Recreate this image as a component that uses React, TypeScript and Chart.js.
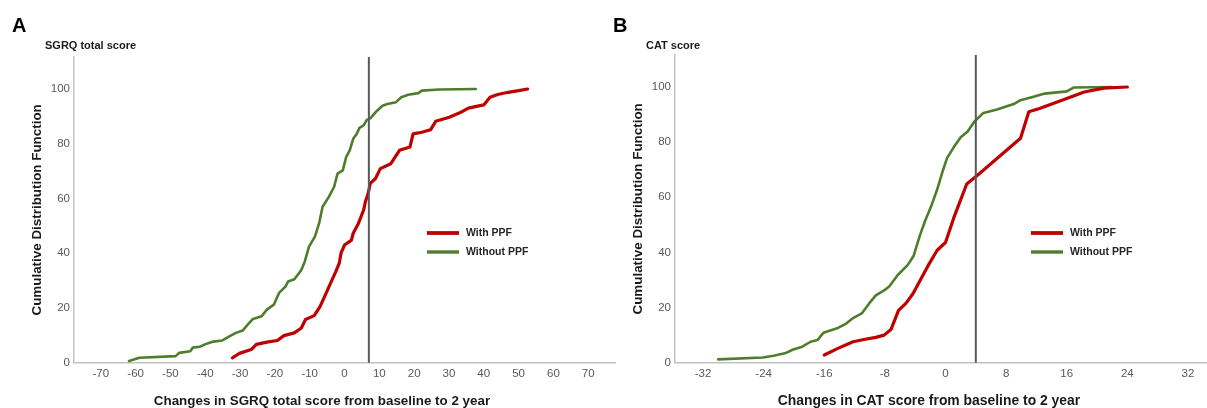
import React, { useEffect, useRef } from "react";
import { Chart, registerables } from "chart.js";

Chart.register(...registerables);

// ---------- data ----------
const seriesLabels = ["With PPF", "Without PPF"];
const yTicks = [0, 20, 40, 60, 80, 100];

const sgrqTicks = [-70, -60, -50, -40, -30, -20, -10, 0, 10, 20, 30, 40, 50, 60, 70];
const sgrqCutoff = 7;
const sgrqWithPpfX = [-32.2, -30.2, -26.8, -25.3, -22.3, -19.3, -17.4, -14.4, -12.4, -11.2, -8.7, -7.0, -5.5, -4.0, -2.5, -1.5, -1.0, 0.0, 2.0, 2.5, 4.0, 5.5, 6.0, 6.8, 7.4, 8.9, 10.3, 13.3, 15.8, 18.8, 19.7, 22.2, 24.7, 26.2, 30.1, 33.1, 35.6, 40.0, 41.8, 44.0, 47.0, 50.0, 52.6];
const sgrqWithPpfY = [1.8, 3.4, 4.8, 6.7, 7.5, 8.1, 9.9, 10.9, 12.7, 15.8, 17.2, 20.6, 24.8, 29.1, 33.3, 36.4, 40.0, 43.0, 44.8, 47.3, 50.9, 55.8, 58.8, 61.8, 65.5, 67.3, 70.9, 72.7, 77.6, 78.8, 83.6, 84.2, 85.1, 88.2, 89.7, 91.3, 93.0, 94.2, 97.0, 98.0, 98.8, 99.4, 100];
const sgrqWithoutPpfX = [-61.9, -58.9, -48.5, -47.5, -44.3, -43.6, -41.6, -40.1, -38.1, -35.2, -33.2, -31.2, -29.2, -27.8, -26.3, -23.8, -22.3, -20.3, -18.8, -16.9, -16.2, -14.4, -12.4, -11.4, -10.2, -8.5, -7.3, -6.3, -4.5, -3.0, -2.0, -0.5, 0.5, 1.5, 2.5, 3.5, 4.3, 5.5, 6.4, 7.4, 8.9, 10.9, 12.3, 14.8, 16.3, 18.3, 21.2, 22.2, 27.2, 37.7];
const sgrqWithoutPpfY = [0.6, 1.8, 2.4, 3.6, 4.2, 5.5, 5.8, 6.7, 7.6, 8.1, 9.5, 10.9, 11.8, 13.9, 16.0, 17.0, 19.4, 21.2, 25.5, 27.9, 29.7, 30.5, 33.9, 37.0, 42.4, 46.1, 50.9, 57.0, 60.6, 64.2, 69.1, 70.3, 75.2, 77.6, 81.8, 83.6, 85.8, 86.7, 88.7, 89.3, 91.5, 93.9, 94.5, 95.2, 97.0, 97.9, 98.5, 99.4, 99.8, 100];

const catTicks = [-32, -24, -16, -8, 0, 8, 16, 24, 32];
const catCutoff = 4;
const catWithPpfX = [-16, -14.2, -12.2, -10.6, -9.2, -8.1, -7.2, -6.2, -5.2, -4.3, -2.3, -1.1, 0, 1.1, 2.8, 4.3, 9.9, 11.0, 12.4, 16.0, 18.3, 20.9, 24.0];
const catWithPpfY = [2.8, 5.2, 7.6, 8.5, 9.2, 10.0, 12.0, 19.0, 21.6, 25.0, 35.2, 40.8, 43.6, 52.6, 64.8, 68.2, 81.4, 91.0, 92.2, 95.8, 98.2, 99.6, 100];
const catWithoutPpfX = [-30, -24.1, -22.7, -21.2, -20.1, -18.9, -17.8, -16.9, -16.1, -14.2, -13.1, -12.2, -11.0, -10.1, -9.2, -8.1, -7.4, -6.3, -5.0, -4.2, -3.4, -2.7, -1.8, -1.1, -0.45, 0.2, 1.1, 2.0, 2.9, 3.8, 5.0, 6.8, 9.0, 9.9, 11.5, 13.1, 16.0, 16.9, 21.9];
const catWithoutPpfY = [1.2, 1.9, 2.5, 3.4, 4.8, 5.8, 7.6, 8.2, 10.9, 12.6, 14.2, 16.2, 18.0, 21.4, 24.4, 26.2, 27.7, 31.8, 35.4, 38.8, 46.0, 51.4, 57.4, 62.8, 68.8, 74.2, 78.2, 81.8, 83.8, 87.4, 90.6, 91.8, 93.8, 95.2, 96.4, 97.6, 98.4, 99.8, 100];

// ---------- styles ----------
const RED = "#c00000";
const GREEN = "#4f7d2c";
const SANS = "'Liberation Sans', Arial, sans-serif";
const CANVAS_W = 620;
const CANVAS_H = 408;

type Series = { label: string; xs: number[]; ys: number[]; color: string; width: number; legendWidth: number };

type PanelProps = {
  left: number;
  letter: string;
  subtitle: string;
  xTitle: string;
  xTitleCenter: number;
  xTitleSize: number;
  xMin: number;
  xMax: number;
  xTicks: number[];
  cutoff: number;
  top: number;
  yMax: number;
  legendX: number;
  series: Series[];
};

const zip = (xs: number[], ys: number[]) => xs.map((x, i) => ({ x, y: ys[i] }));

function Panel(p: PanelProps) {
  const ref = useRef<HTMLCanvasElement>(null);
  useEffect(() => {
    if (!ref.current) return;
    const axisLeft = 74;
    const axisBottom = 362.7;
    const overlay = {
      id: "overlay",
      afterDatasetsDraw(chart: any) {
        const ctx = chart.ctx;
        const xs = chart.scales.x;
        const ys = chart.scales.y;
        const px = xs.getPixelForValue(p.cutoff);
        ctx.save();
        ctx.strokeStyle = "#595959";
        ctx.lineWidth = 2;
        ctx.beginPath();
        ctx.moveTo(px, ys.getPixelForValue(p.yMax));
        ctx.lineTo(px, ys.getPixelForValue(0));
        ctx.stroke();
        ctx.restore();
      },
      afterDraw(chart: any) {
        const ctx = chart.ctx;
        const area = chart.chartArea;
        ctx.save();
        ctx.fillStyle = "#000";
        ctx.textBaseline = "alphabetic";
        ctx.textAlign = "left";
        ctx.font = `bold 20px ${SANS}`;
        ctx.fillText(p.letter, 12, 32);
        ctx.fillStyle = "#1a1a1a";
        ctx.font = `bold 11px ${SANS}`;
        ctx.fillText(p.subtitle, 45, 49);
        // axis titles
        ctx.font = `bold ${p.xTitleSize}px ${SANS}`;
        ctx.textAlign = "center";
        ctx.fillText(p.xTitle, p.xTitleCenter, 405);
        ctx.save();
        ctx.font = `bold 13.4px ${SANS}`;
        ctx.translate(37, (area.top + area.bottom) / 2);
        ctx.rotate(-Math.PI / 2);
        ctx.textBaseline = "middle";
        ctx.fillText("Cumulative Distribution Function", 0, 0);
        ctx.restore();
        // legend
        const rows = [233, 252];
        p.series.forEach((s, i) => {
          ctx.strokeStyle = s.color;
          ctx.lineWidth = s.legendWidth;
          ctx.beginPath();
          ctx.moveTo(p.legendX, rows[i]);
          ctx.lineTo(p.legendX + 32, rows[i]);
          ctx.stroke();
          ctx.fillStyle = "#262626";
          ctx.font = `bold 10.5px ${SANS}`;
          ctx.textAlign = "left";
          ctx.textBaseline = "middle";
          ctx.fillText(s.label, p.legendX + 39, rows[i] + 0.5);
        });
        ctx.restore();
      },
    };
    const tickFont = { family: SANS, size: 11.5 };
    const chart = new Chart(ref.current, {
      type: "line",
      data: {
        datasets: p.series.map((s) => ({
          label: s.label,
          data: zip(s.xs, s.ys),
          borderColor: s.color,
          backgroundColor: s.color,
          borderWidth: s.width,
          pointRadius: 0,
          tension: 0,
          fill: false,
          borderJoinStyle: "round" as const,
          borderCapStyle: "round" as const,
        })),
      },
      options: {
        responsive: false,
        animation: false,
        devicePixelRatio: 1,
        layout: { padding: { top: p.top, left: 0, bottom: 0, right: CANVAS_W - (axisLeft + 541) } },
        plugins: { legend: { display: false }, title: { display: false }, tooltip: { enabled: false } },
        scales: {
          x: {
            type: "linear",
            min: p.xMin,
            max: p.xMax,
            grid: { display: false, drawTicks: false },
            border: { display: true, color: "#c2c2c2", width: 1.5 },
            ticks: { font: tickFont, color: "#595959", padding: 4, autoSkip: false, maxRotation: 0, callback: (v: any) => String(v) },
            afterBuildTicks: (s: any) => { s.ticks = p.xTicks.map((v) => ({ value: v })); },
            afterFit: (s: any) => { s.height = CANVAS_H - axisBottom; },
          },
          y: {
            type: "linear",
            min: 0,
            max: p.yMax,
            grid: { display: false, drawTicks: false },
            border: { display: true, color: "#c2c2c2", width: 1.5 },
            ticks: { font: tickFont, color: "#595959", padding: 4, autoSkip: false, callback: (v: any) => String(v) },
            afterBuildTicks: (s: any) => { s.ticks = yTicks.map((v) => ({ value: v })); },
            afterFit: (s: any) => { s.width = axisLeft; },
          },
        },
      },
      plugins: [overlay],
    } as any);
    return () => chart.destroy();
  }, []);
  return (
    <canvas
      ref={ref}
      width={CANVAS_W}
      height={CANVAS_H}
      style={{ position: "absolute", left: p.left, top: 0, width: CANVAS_W, height: CANVAS_H }}
    />
  );
}

export default function App() {
  const sgrqSeries: Series[] = [
    { label: seriesLabels[0], xs: sgrqWithPpfX, ys: sgrqWithPpfY, color: RED, width: 3.2, legendWidth: 3.8 },
    { label: seriesLabels[1], xs: sgrqWithoutPpfX, ys: sgrqWithoutPpfY, color: GREEN, width: 2.6, legendWidth: 3.4 },
  ];
  const catSeries: Series[] = [
    { label: seriesLabels[0], xs: catWithPpfX, ys: catWithPpfY, color: RED, width: 3.2, legendWidth: 3.8 },
    { label: seriesLabels[1], xs: catWithoutPpfX, ys: catWithoutPpfY, color: GREEN, width: 2.6, legendWidth: 3.4 },
  ];
  return (
    <div style={{ position: "fixed", left: 0, top: 0, width: 1207, height: 408, overflow: "hidden", background: "#fff" }}>
      <Panel
        left={0}
        letter="A"
        subtitle="SGRQ total score"
        xTitle="Changes in SGRQ total score from baseline to 2 year"
        xTitleCenter={322}
        xTitleSize={13.4}
        xMin={-77.7}
        xMax={77.7}
        xTicks={sgrqTicks}
        cutoff={sgrqCutoff}
        top={57}
        yMax={111.7}
        legendX={427}
        series={sgrqSeries}
      />
      <Panel
        left={601}
        letter="B"
        subtitle="CAT score"
        xTitle="Changes in CAT score from baseline to 2 year"
        xTitleCenter={328}
        xTitleSize={13.9}
        xMin={-35.7}
        xMax={35.7}
        xTicks={catTicks}
        cutoff={catCutoff}
        top={55}
        yMax={111.6}
        legendX={430}
        series={catSeries}
      />
    </div>
  );
}
